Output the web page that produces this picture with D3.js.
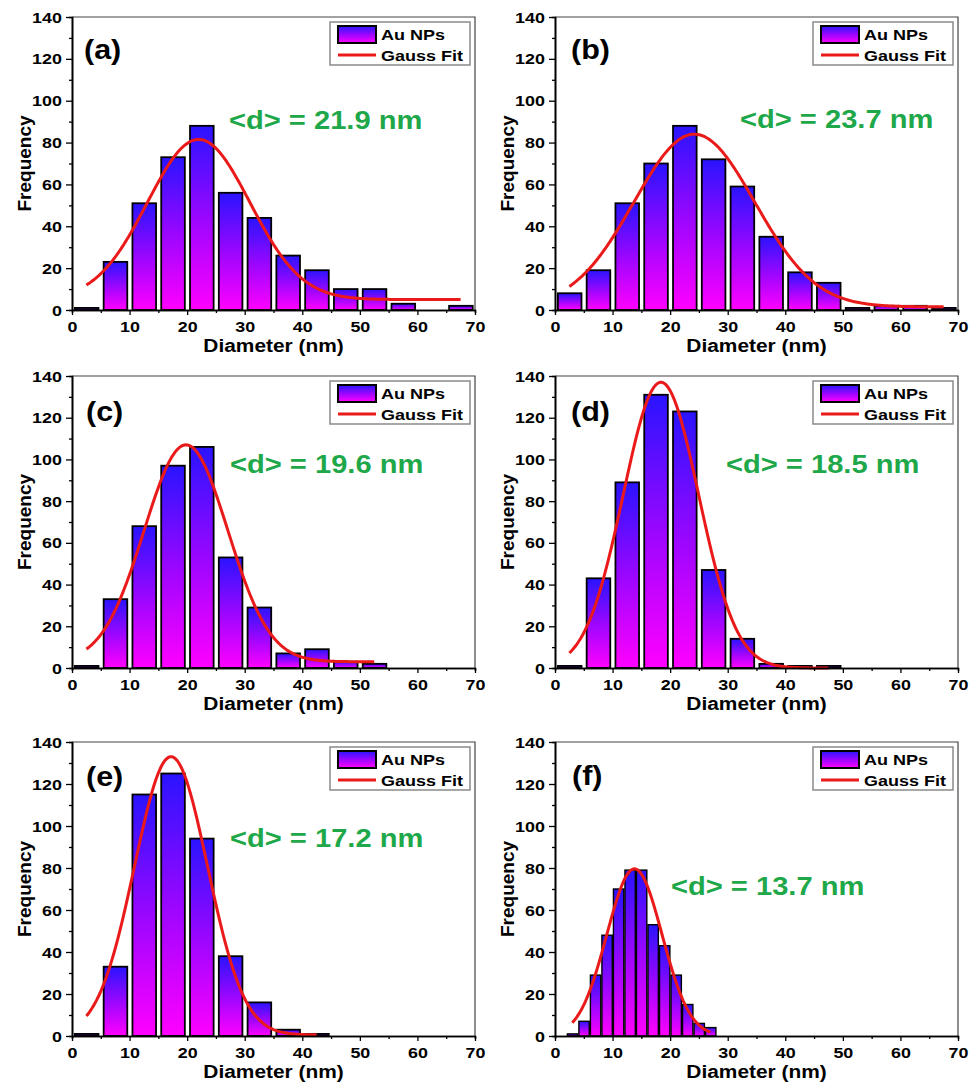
<!DOCTYPE html>
<html>
<head>
<meta charset="utf-8">
<script src="https://cdn.jsdelivr.net/npm/d3@7"></script>
<style>
  body { margin: 0; background: #fff; }
  text { font-family: "Liberation Sans", Arial, sans-serif; font-weight: bold; }
</style>
</head>
<body>
<svg id="fig" width="977" height="1082"></svg>
<script>
// histogram data
const panelNames = ['(a)', '(b)', '(c)', '(d)', '(e)', '(f)'];
const meanLabels = ['<d> = 21.9 nm', '<d> = 23.7 nm', '<d> = 19.6 nm', '<d> = 18.5 nm', '<d> = 17.2 nm', '<d> = 13.7 nm'];

const bins5 = [0, 5, 10, 15, 20, 25, 30, 35, 40, 45, 50, 55, 60, 65];
const bins2 = [2, 4, 6, 8, 10, 12, 14, 16, 18, 20, 22, 24, 26];

const countsA = [1, 23, 51, 73, 88, 56, 44, 26, 19, 10, 10, 3, 0, 2];
const countsB = [8, 19, 51, 70, 88, 72, 59, 35, 18, 13, 1, 2, 2, 1];
const countsC = [1, 33, 68, 97, 106, 53, 29, 7, 9, 3, 2];
const countsD = [1, 43, 89, 131, 123, 47, 14, 2, 1, 1];
const countsE = [1, 33, 115, 125, 94, 38, 16, 3, 1];
const countsF = [1, 7, 29, 48, 70, 79, 79, 53, 43, 29, 15, 6, 4];

// gauss fit: [xc, sigma, height, y0, xFrom, xTo]
const fitA = [22.0, 8.9, 76.5, 5, 2.5, 67.5];
const fitB = [24.2, 10.5, 82.5, 1.5, 2.5, 67.5];
const fitC = [19.8, 7.26, 104, 3, 2.5, 52.5];
const fitD = [18.4, 6.55, 137, 0, 2.5, 47.5];
const fitE = [17.2, 6.34, 132.5, 0.5, 2.5, 42.5];
const fitF = [13.8, 4.8, 79.6, 0, 3, 27];

const xTicks = [0, 10, 20, 30, 40, 50, 60, 70];
const yTicks = [0, 20, 40, 60, 80, 100, 120, 140];

const series = [
  { bins: bins5, w: 5, counts: countsA, fit: fitA },
  { bins: bins5, w: 5, counts: countsB, fit: fitB },
  { bins: bins5, w: 5, counts: countsC, fit: fitC },
  { bins: bins5, w: 5, counts: countsD, fit: fitD },
  { bins: bins5, w: 5, counts: countsE, fit: fitE },
  { bins: bins2, w: 2, counts: countsF, fit: fitF }
];

// layout (pixels)
const colLeft = [72, 555];
const colWidth = 403;
const rowTop = [17, 376, 742];
const rowHeight = [293, 292, 294];
const labelPos = [[12, 42], [16, 42], [14, 45], [16, 45], [14, 44], [17, 43]];
const meanPos = [[157, 112], [185, 111], [158, 97], [171, 97], [158, 105], [116, 153]];
const barFrac = [0.82, 0.82, 0.82, 0.82, 0.82, 0.9];

const svg = d3.select('#fig');
svg.append('rect').attr('width', 977).attr('height', 1082).attr('fill', '#fff');

const defs = svg.append('defs');
const grad = defs.append('linearGradient')
  .attr('id', 'barGrad')
  .attr('x1', 0).attr('y1', 0).attr('x2', 0).attr('y2', 1);
grad.append('stop').attr('offset', '0%').attr('stop-color', '#2a14ff');
grad.append('stop').attr('offset', '50%').attr('stop-color', '#9a06ff');
grad.append('stop').attr('offset', '100%').attr('stop-color', '#ff00ff');

const RED = '#ea1a1a';
const GREEN = '#1fa84a';

series.forEach((s, i) => {
  const col = i % 2, row = Math.floor(i / 2);
  const L = colLeft[col], T = rowTop[row], W = colWidth, H = rowHeight[row];
  const g = svg.append('g').attr('transform', `translate(${L},${T})`);

  const x = d3.scaleLinear().domain([0, 70]).range([0, W]);
  const y = d3.scaleLinear().domain([0, 140]).range([H, 0]);

  // bars
  const bw = s.w * barFrac[i];
  g.selectAll('rect.bar')
    .data(s.counts.map((c, k) => ({ x0: s.bins[k], c: c })))
    .enter().append('rect')
    .attr('class', 'bar')
    .attr('x', d => x(d.x0 + s.w / 2 + 0.05 - bw / 2))
    .attr('width', d => x(bw) - x(0))
    .attr('y', d => y(d.c))
    .attr('height', d => y(0) - y(d.c))
    .attr('fill', 'url(#barGrad)')
    .attr('stroke', '#000')
    .attr('stroke-width', i === 5 ? 1.4 : 1.8)
    .filter(d => d.c === 0).remove();

  // gauss fit
  const [xc, sig, amp, y0, xa, xb] = s.fit;
  const pts = d3.range(xa, xb + 0.001, 0.25).map(v => [v, y0 + amp * Math.exp(-((v - xc) ** 2) / (2 * sig * sig))]);
  g.append('path')
    .attr('d', d3.line().x(d => x(d[0])).y(d => y(d[1]))(pts))
    .attr('fill', 'none')
    .attr('stroke', RED)
    .attr('stroke-width', 3);

  // frame
  g.append('path')
    .attr('d', `M0,0H${W}V${H}`)
    .attr('fill', 'none').attr('stroke', '#444').attr('stroke-width', 1.2);

  // axes
  const yMinor = g.append('g').call(d3.axisLeft(y).tickValues(d3.range(10, 140, 20)).tickSize(3).tickFormat(''));
  const xMinor = g.append('g').attr('transform', `translate(0,${H})`)
    .call(d3.axisBottom(x).tickValues(d3.range(5, 70, 10)).tickSize(3).tickFormat(''));
  const yAx = g.append('g').call(d3.axisLeft(y).tickValues(yTicks).tickSize(6).tickSizeOuter(0));
  const xAx = g.append('g').attr('transform', `translate(0,${H})`)
    .call(d3.axisBottom(x).tickValues(xTicks).tickSize(5).tickSizeOuter(0));
  [yMinor, xMinor, yAx, xAx].forEach(a => {
    a.select('.domain').attr('stroke', '#000').attr('stroke-width', 1.6);
    a.selectAll('.tick line').attr('stroke', '#000').attr('stroke-width', 1.3);
  });
  yAx.selectAll('.tick text')
    .attr('x', 0).attr('dy', '0.36em')
    .attr('transform', 'translate(-10,0) scale(1.28,1)')
    .attr('font-size', 14).attr('fill', '#000');
  xAx.selectAll('.tick text')
    .attr('y', 0).attr('dy', '0.72em')
    .attr('transform', 'translate(0,12) scale(1.28,1)')
    .attr('font-size', 14).attr('fill', '#000');

  // axis titles
  g.append('text')
    .attr('transform', `translate(${-48},${H / 2}) rotate(-90)`)
    .attr('text-anchor', 'middle').attr('dy', '0.35em')
    .attr('font-size', 19).text('Frequency');
  g.append('text')
    .attr('transform', `translate(${W / 2},${H + 42}) scale(1.16,1)`)
    .attr('text-anchor', 'middle')
    .attr('font-size', 18).text('Diameter (nm)');

  // panel label & mean size
  g.append('text')
    .attr('transform', `translate(${labelPos[i][0]},${labelPos[i][1]}) scale(1.13,1)`)
    .attr('font-size', 27).text(panelNames[i]);
  g.append('text')
    .attr('transform', `translate(${meanPos[i][0]},${meanPos[i][1]}) scale(1.12,1)`)
    .attr('font-size', 26).attr('fill', GREEN).text(meanLabels[i]);

  // legend
  const lg = g.append('g').attr('transform', `translate(${W - 145},5)`);
  lg.append('rect').attr('width', 140).attr('height', 43)
    .attr('fill', '#fff').attr('stroke', '#8a8a8a').attr('stroke-width', 1.5);
  lg.append('rect').attr('x', 8).attr('y', 4).attr('width', 38).attr('height', 17)
    .attr('fill', 'url(#barGrad)').attr('stroke', '#000').attr('stroke-width', 2);
  lg.append('line').attr('x1', 8).attr('x2', 46).attr('y1', 33).attr('y2', 33)
    .attr('stroke', RED).attr('stroke-width', 3);
  lg.append('text').attr('transform', 'translate(51,17.5) scale(1.2,1)')
    .attr('font-size', 15).text('Au NPs');
  lg.append('text').attr('transform', 'translate(51,39) scale(1.2,1)')
    .attr('font-size', 15).text('Gauss Fit');
});
</script>
</body>
</html>
